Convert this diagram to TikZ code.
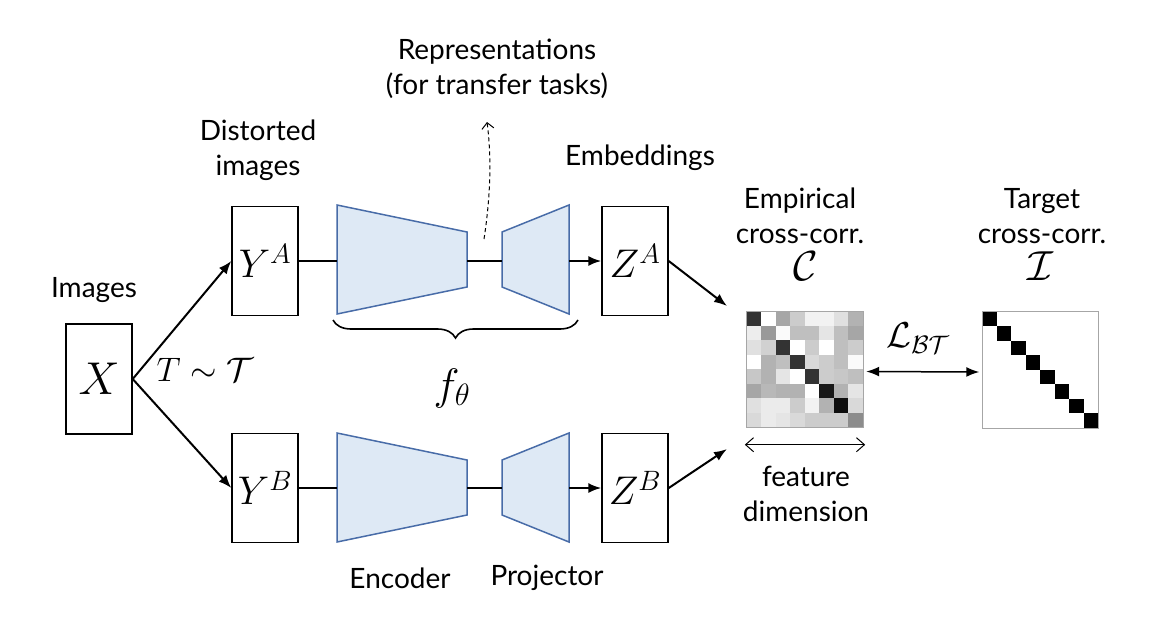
\RequirePackage{fix-cm}
\documentclass[tikz,border=0pt]{standalone}
\usepackage{fontspec}
\setmainfont{Lato}
\usetikzlibrary{arrows.meta,decorations.pathreplacing,calc}
\definecolor{netfill}{RGB}{222,233,245}
\definecolor{netdraw}{RGB}{72,108,168}
\begin{document}
\begin{tikzpicture}[x=1pt,y=-1pt,
  lbl/.style={font=\fontsize{28}{35}\selectfont, align=center, inner sep=0},
  vbox/.style={draw, line width=1.4pt, minimum width=66pt, minimum height=109pt, inner sep=0, font=\fontsize{40}{40}\selectfont},
  net/.style={draw=netdraw, fill=netfill, line width=1.5pt, line join=miter},
  conn/.style={line width=2pt},
  arr/.style={line width=2pt, -{Latex[length=13pt,width=10pt]}},
]
\useasboundingbox (0,0) rectangle (1174,640);

% boxes
\node[vbox, minimum width=66pt, minimum height=110pt, font=\fontsize{46}{46}\selectfont] (X) at (99,379) {$X$};
\node[vbox] (YA) at (265,261) {$Y^A$};
\node[vbox] (YB) at (265,488) {$Y^B$};
\node[vbox] (ZA) at (635,261) {$Z^A$};
\node[vbox] (ZB) at (635,488) {$Z^B$};

% networks (top)
\draw[net] (337,205) -- (467,232) -- (467,287) -- (337,314) -- cycle;
\draw[net] (502,232) -- (569,205) -- (569,314) -- (502,287) -- cycle;
\coordinate (EAin) at (337,261);
\coordinate (EAout) at (467,261);
\coordinate (PAin) at (502,261);
\coordinate (PAout) at (569,261);
% networks (bottom)
\draw[net] (337,433) -- (467,460) -- (467,515) -- (337,542) -- cycle;
\draw[net] (502,460) -- (569,433) -- (569,542) -- (502,515) -- cycle;
\coordinate (EBin) at (337,488);
\coordinate (EBout) at (467,488);
\coordinate (PBin) at (502,488);
\coordinate (PBout) at (569,488);

% connectors
\draw[arr] (X.east) -- (YA.west);
\draw[arr] (X.east) -- (YB.west);
\draw[conn] (YA.east) -- (EAin);
\draw[conn] (EAout) -- (PAin);
\draw[arr] (PAout) -- (ZA.west);
\draw[conn] (YB.east) -- (EBin);
\draw[conn] (EBout) -- (PBin);
\draw[arr] (PBout) -- (ZB.west);

% matrices
\node[minimum size=116pt, inner sep=0] (Cm) at (805,369.5) {};
\foreach \row [count=\j from 0] in {
  {80,0,35,20,5,5,12,30},
  {7,40,2,25,25,10,25,35},
  {12,18,80,0,20,0,25,20},
  {0,30,25,80,15,20,25,2},
  {22,30,10,0,80,20,22,25},
  {35,28,30,30,0,90,30,10},
  {12,8,8,20,5,30,95,15},
  {15,8,10,15,20,20,20,45}} {
  \foreach \v [count=\i from 0] in \row {
    \fill[black!\v] ($(Cm.north west)+(\i*14.5,\j*14.5)$) rectangle +(14.6,14.6);
  }
}
\draw[gray!70, line width=1pt] (Cm.north west) rectangle (Cm.south east);

\node[minimum size=116pt, inner sep=0] (Im) at (1040.5,370) {};
\foreach \i in {0,...,7} {
  \fill[black] ($(Im.north west)+(\i*14.5,\i*14.5)$) rectangle +(14.5,14.5);
}
\draw[gray!70, line width=1pt] (Im.north west) rectangle (Im.south east);

\coordinate (CinA) at (727,306);
\coordinate (CinB) at (727,449);
\draw[arr] (ZA.east) -- (CinA);
\draw[arr] (ZB.east) -- (CinB);

\draw[line width=1.5pt, {Latex[length=13pt,width=10pt]}-{Latex[length=13pt,width=10pt]}] ($(Cm.east)+(3,2)$) -- ($(Im.west)+(-3,2)$);
\node[inner sep=0, font=\fontsize{36}{36}\selectfont] (L) at (918,338) {$\mathcal{L}_{\mathcal{BT}}$};

\draw[line width=1pt, {Straight Barb[length=8pt,width=14pt]}-{Straight Barb[length=8pt,width=14pt]}] ($(Cm.south west)+(-2,17)$) -- ($(Cm.south east)+(2,17)$);
\node[lbl] (fd) at (806,494) {feature\\dimension};

% brace
\draw[line width=1.6pt, decorate, decoration={brace, mirror, amplitude=18pt}] (333,320) -- (578,320);
\node[inner sep=0, font=\fontsize{44}{44}\selectfont] (f) at (452,388) {$f_\theta$};

% dashed arrow
\coordinate (rep0) at (484,239);
\coordinate (rep1) at (487,122);
\draw[line width=1pt, dash pattern=on 4pt off 3pt, -{Straight Barb[length=6pt,width=12pt]}] (rep0) .. controls (490,200) and (492,160) .. (rep1);

% labels
\node[lbl] (limg) at (94,290) {Images};
\node[lbl] (ldist) at (258,150) {Distorted\\images};
\node[lbl] (lemb) at (640,158) {Embeddings};
\node[lbl] (lrep) at (497,69) {Representations\\(for transfer tasks)};
\node[lbl] (lemp) at (800,216) {Empirical\\cross-corr.};
\node[lbl] (ltgt) at (1042,216) {Target\\cross-corr.};
\node[lbl] (lenc) at (400,578) {Encoder};
\node[lbl] (lproj) at (547,578) {Projector};
\node[inner sep=0, font=\fontsize{34}{34}\selectfont] (T) at (205,370) {$T\sim\mathcal{T}$};
\node[inner sep=0, font=\fontsize{42}{42}\selectfont] (Cl) at (806,266) {$\mathcal{C}$};
\node[inner sep=0, font=\fontsize{42}{42}\selectfont] (Il) at (1040,266) {$\mathcal{I}$};
\end{tikzpicture}
\end{document}
